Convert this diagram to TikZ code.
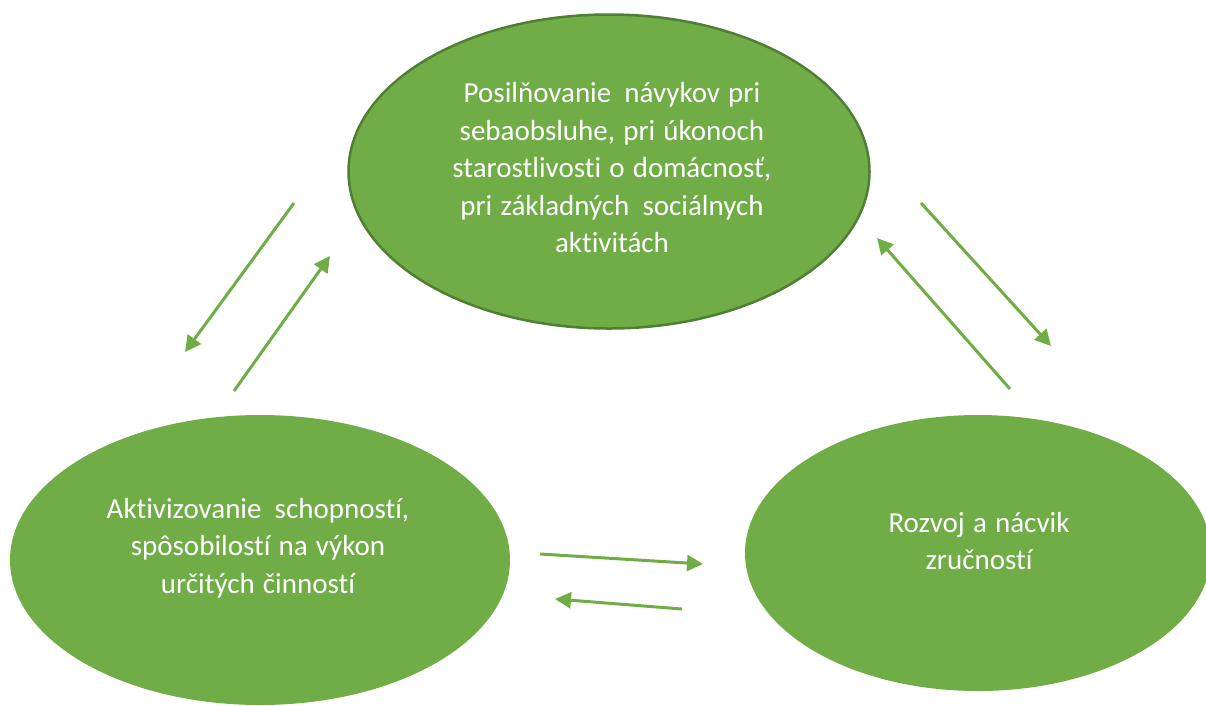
\documentclass[tikz,border=0pt]{standalone}
\usepackage{fontspec}
\setmainfont{Carlito}[Ligatures=NoCommon, WordSpace=1.25]
\usetikzlibrary{shapes.geometric,arrows.meta}
\definecolor{gfill}{HTML}{70AD47}
\definecolor{gline}{HTML}{507E32}
\begin{document}
\begin{tikzpicture}[x=1pt,y=-1pt,
  blob/.style={ellipse, fill=gfill, inner sep=0pt},
  txt/.style={text=white, align=center, inner sep=0pt, font=\fontsize{29}{37.5}\selectfont},
  conn/.style={draw=gfill, line width=3pt, -{Triangle[length=16pt,width=16pt]}}]
\useasboundingbox (0,0) rectangle (1206,705);
\node[blob, draw=gline, line width=2.5pt, minimum width=521pt, minimum height=314pt] (top) at (609,171.5) {};
\node[blob, minimum width=500pt, minimum height=290pt] (left) at (260,560) {};
\node[blob, minimum width=466pt, minimum height=276pt] (right) at (978,553) {};
\node[txt] (toptext) at (612,168) {Posilňovanie\hspace{5pt} návykov pri\\sebaobsluhe, pri úkonoch\\starostlivosti o domácnosť,\\pri základných\hspace{5pt} sociálnych\\aktivitách};
\node[txt] (lefttext) at (258,548) {Aktivizovanie\hspace{5pt} schopností,\\spôsobilostí na výkon\\určitých činností};
\node[txt] (righttext) at (979,541) {Rozvoj a nácvik\\zručností};
\coordinate (a1s) at (294,203); \coordinate (a1e) at (185,352);
\coordinate (a2s) at (234,391); \coordinate (a2e) at (330,256);
\coordinate (a3s) at (921,203); \coordinate (a3e) at (1051,346);
\coordinate (a4s) at (1010,389); \coordinate (a4e) at (877,238);
\coordinate (a5s) at (540,554); \coordinate (a5e) at (703,564);
\coordinate (a6s) at (682,609); \coordinate (a6e) at (555,599);
\draw[conn] (a1s) -- (a1e);
\draw[conn] (a2s) -- (a2e);
\draw[conn] (a3s) -- (a3e);
\draw[conn] (a4s) -- (a4e);
\draw[conn] (a5s) -- (a5e);
\draw[conn] (a6s) -- (a6e);
\end{tikzpicture}
\end{document}
